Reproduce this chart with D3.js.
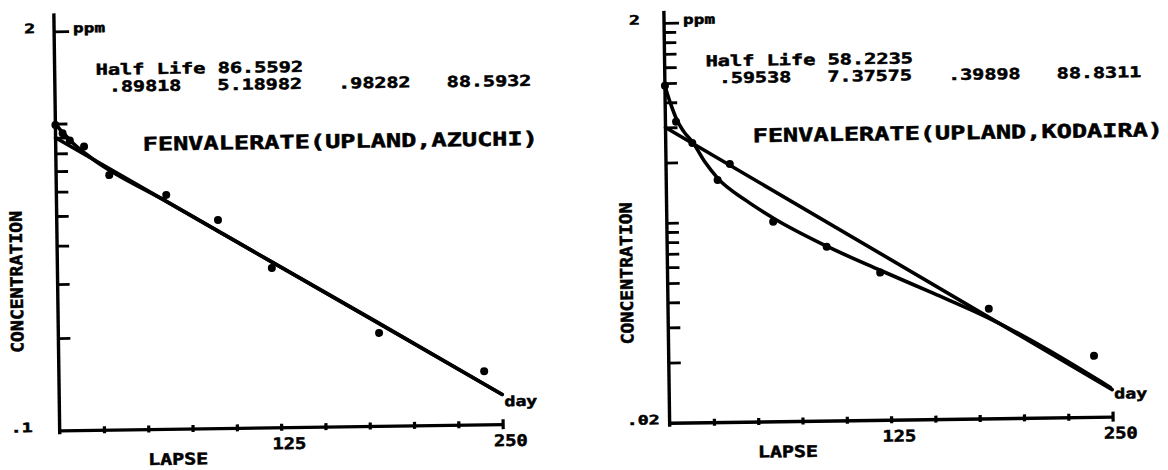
<!DOCTYPE html>
<html>
<head>
<meta charset="utf-8">
<script src="https://cdn.jsdelivr.net/npm/d3@7/dist/d3.min.js"></script>
<style>
  body { margin: 0; background: #fff; }
  svg { display: block; }
  text { font-family: "DejaVu Sans Mono", monospace; font-weight: bold; fill: #000; stroke: #000; stroke-width: 0.5; }
</style>
</head>
<body>
<svg id="drawing_region"></svg>
<script>
// ---- shared ----
const xTicks = [25, 50, 75, 100, 125, 150, 175, 200, 225, 250];
const xTickLabels = [125, 250];

// ---- left: AZUCHI ----
const azuchiTitle = "FENVALERATE(UPLAND,AZUCHI)";
const azuchiHalfLife = "Half Life 86.5592";
const azuchiParams = [".89818", "5.18982", ".98282", "88.5932"];
const azuchiDays = [0, 4, 8, 16, 30, 62, 91, 121, 181, 240];
const azuchiConc = [0.99, 0.93, 0.88, 0.84, 0.676, 0.579, 0.477, 0.331, 0.201, 0.149];
const azuchiFitDays = [0, 250];
const azuchiFitConc = [0.90, 0.125];
const azuchiCurveDays = [0, 3, 6, 10, 20, 60, 120, 180, 250];
const azuchiCurveConc = [1.0, 0.95, 0.91, 0.86, 0.77, 0.56, 0.349, 0.218, 0.125];
const azuchiYDomain = [0.1, 2];
const azuchiYTicks = [2, 1, 0.9, 0.8, 0.7, 0.6, 0.5, 0.4, 0.3, 0.2];
const azuchiYLabels = [[2, "2"], [0.1, ".1"]];

// ---- right: KODAIRA ----
const kodairaTitle = "FENVALERATE(UPLAND,KODAIRA)";
const kodairaHalfLife = "Half Life 58.2235";
const kodairaParams = [".59538", "7.37575", ".39898", "88.8311"];
const kodairaDays = [0, 6, 15, 29, 36, 60, 90, 120, 181, 240];
const kodairaConc = [0.97, 0.64, 0.50, 0.325, 0.39, 0.199, 0.148, 0.109, 0.0706, 0.0404];
const kodairaFitDays = [0, 250];
const kodairaFitConc = [0.60, 0.0273];
const kodairaCurveDays = [0, 3, 6.5, 10, 15.5, 22, 29, 45, 60, 90, 120, 150, 180, 249];
const kodairaCurveConc = [0.967, 0.79, 0.652, 0.575, 0.499, 0.40, 0.332, 0.255, 0.208, 0.149, 0.112, 0.085, 0.064, 0.028];
const kodairaYDomain = [0.02, 2];
const kodairaYTicks = [2, 1.8, 1.6, 1.4, 1.2, 1, 0.8, 0.6, 0.4, 0.2,
                       0.18, 0.16, 0.14, 0.12, 0.1, 0.08, 0.06, 0.04];
const kodairaYLabels = [[2, "2"], [0.02, ".02"]];

const W = 1168, H = 470;

const svg = d3.select('#drawing_region')
    .attr('width', W)
    .attr('height', H);

svg.append('rect').attr('width', W).attr('height', H).attr('fill', '#fff');

// the scan is a little tilted
const root = svg.append('g')
    .attr('transform', 'rotate(-0.8, 584, 235)');

class DecayPlot {

    constructor( config, data ) {
        this.config = config;
        this.data = data;
        this.init();
    }

    init() {
        let self = this;
        const c = self.config;

        self.chart = root.append('g');

        self.xscale = d3.scaleLinear()
            .domain([0, 250])
            .range([c.axisX, c.axisX + c.plotWidth]);

        self.yscale = d3.scaleLog()
            .domain(self.data.yDomain)
            .range([c.bottom, c.top]);
    }

    text( str, x, y, size, len, anchor ) {
        let t = this.chart.append('text')
            .attr('x', x)
            .attr('y', y)
            .attr('font-size', size)
            .attr('text-anchor', anchor || 'start')
            .text(str);
        if (len) t.attr('textLength', len).attr('lengthAdjust', 'spacingAndGlyphs');
        return t;
    }

    render() {
        let self = this;
        const c = self.config;
        const d = self.data;
        const x = self.xscale, y = self.yscale;

        // y axis
        self.chart.append('line')
            .attr('x1', c.axisX).attr('x2', c.axisX)
            .attr('y1', c.top - c.axisOver).attr('y2', c.bottom + 4)
            .attr('stroke', '#000').attr('stroke-width', 3.4);

        const yaxis = d3.axisRight( y )
            .tickValues( d.yTicks )
            .tickSize( 12 )
            .tickFormat('');

        self.chart.append('g')
            .attr('transform', `translate(${c.axisX}, 0)`)
            .call( yaxis )
            .call( g => g.select('.domain').remove() )
            .selectAll('.tick line')
            .attr('stroke', '#000')
            .attr('stroke-width', 2.8)
            .attr('x2', v => v === 2 ? 15 : 12);

        // x axis
        const xaxis = d3.axisBottom( x )
            .tickValues( xTicks )
            .tickSizeOuter( 0 )
            .tickFormat('');

        const xg = self.chart.append('g')
            .attr('transform', `translate(0, ${c.bottom})`)
            .call( xaxis );
        xg.select('.domain').attr('stroke', '#000').attr('stroke-width', 3.4);
        xg.selectAll('.tick line')
            .attr('stroke', '#000')
            .attr('stroke-width', 3.2)
            .attr('y1', v => v === 250 ? -5 : -3.5)
            .attr('y2', v => v === 250 ? 5 : 3.5);

        // tick labels
        xTickLabels.forEach( v => {
            self.text(String(v), x(v) + 8, c.bottom + 22, 16, 34, 'middle');
        });
        d.yLabels.forEach( (l, i) => {
            self.text(l[1], c.axisX + c.yLabelDx[i], y(l[0]) + 1.5, 13, l[1].length * 11, 'end');
        });

        self.text('ppm', c.axisX + 19, y(2) + 1.5, 13, 32);
        self.text('day', x(250) + 2, c.bottom - 18, 14, 33);

        // axis titles
        self.text('LAPSE', c.axisX + 118, c.bottom + 36, 16, 60, 'middle');
        self.text('CONCENTRATION', 0, 0, 17, 142, 'middle')
            .attr('transform', `translate(${c.axisX - 35}, 274) rotate(-90)`);

        // annotations
        self.text(d.halfLife, c.axisX + 41, 68, 15, d.halfLife.length * 12.2);
        let pos = 0;
        d.params.forEach( p => {
            self.text(p, c.axisX + 54 + pos * 12.07, 85, 15, p.length * 12.07);
            pos += p.length + 3;
        });
        self.text(d.title, c.axisX + 87, 144.5, 19, d.title.length * 15.2);

        // fitted line and curve
        const line = d3.line()
            .x( p => x(p[0]) )
            .y( p => y(p[1]) );

        self.chart.append('path')
            .datum( d3.zip(d.fitDays, d.fitConc) )
            .attr('d', line)
            .attr('fill', 'none')
            .attr('stroke', '#000')
            .attr('stroke-width', 3.6)
            .attr('stroke-linecap', 'round');

        self.chart.append('path')
            .datum( d3.zip(d.curveDays, d.curveConc) )
            .attr('d', line.curve(d3.curveMonotoneX))
            .attr('fill', 'none')
            .attr('stroke', '#000')
            .attr('stroke-width', 3.6)
            .attr('stroke-linecap', 'round');

        // observed points
        self.chart.selectAll('circle')
            .data( d3.zip(d.days, d.conc) )
            .enter()
            .append('circle')
            .attr('cx', p => x(p[0]) )
            .attr('cy', p => y(p[1]) )
            .attr('r', 4)
            .attr('fill', '#000');
    }
}

const left = new DecayPlot(
    { axisX: 57, plotWidth: 443, top: 24, bottom: 423, axisOver: 18, yLabelDx: [-19, -27] },
    { title: azuchiTitle, halfLife: azuchiHalfLife, params: azuchiParams,
      days: azuchiDays, conc: azuchiConc,
      fitDays: azuchiFitDays, fitConc: azuchiFitConc,
      curveDays: azuchiCurveDays, curveConc: azuchiCurveConc,
      yDomain: azuchiYDomain, yTicks: azuchiYTicks, yLabels: azuchiYLabels }
);
left.render();

const right = new DecayPlot(
    { axisX: 667, plotWidth: 443, top: 24, bottom: 424, axisOver: 12, yLabelDx: [-24, -10] },
    { title: kodairaTitle, halfLife: kodairaHalfLife, params: kodairaParams,
      days: kodairaDays, conc: kodairaConc,
      fitDays: kodairaFitDays, fitConc: kodairaFitConc,
      curveDays: kodairaCurveDays, curveConc: kodairaCurveConc,
      yDomain: kodairaYDomain, yTicks: kodairaYTicks, yLabels: kodairaYLabels }
);
right.render();
</script>
</body>
</html>
